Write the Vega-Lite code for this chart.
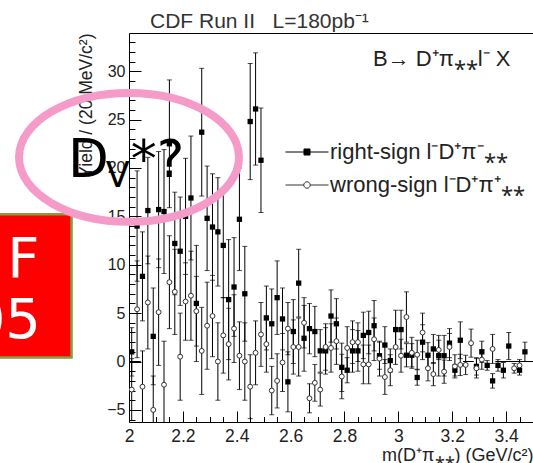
{
  "$schema": "https://vega.github.io/schema/vega-lite/v6.json",
  "width": 404,
  "height": 389,
  "autosize": {"type": "none"},
  "padding": {"left": 129, "top": 33, "right": 0, "bottom": 41},
  "background": "white",
  "title": {"text": "CDF Run II\u00a0\u00a0\u00a0L=180pb⁻¹", "anchor": "start", "frame": "group", "dx": 21, "offset": -16, "fontSize": 21, "fontWeight": "normal", "font": "Liberation Sans", "color": "#333", "baseline": "alphabetic"},
  "config": {
    "view": {"stroke": null},
    "axis": {"domainColor": "black", "tickColor": "black", "labelFont": "Liberation Sans", "titleFont": "Liberation Sans", "labelColor": "#222", "titleColor": "#222", "titleFontWeight": "normal", "grid": false, "tickWidth": 1, "domainWidth": 1},
    "legend": {"orient": "none", "legendX": 156, "legendY": 97, "padding": 0, "labelFont": "Liberation Sans", "labelFontSize": 22, "labelColor": "#222", "symbolSize": 1849, "symbolStrokeWidth": 1, "symbolOpacity": 1, "labelLimit": 400, "rowPadding": -9.6, "labelOffset": 1, "title": null}
  },
  "datasets": {
    "rs": [
      {"m": 2.01, "y": 1.0, "e": 2.5}, {"m": 2.03, "y": 14.0, "e": 5.7}, {"m": 2.05, "y": 8.8, "e": 4.6}, {"m": 2.07, "y": 15.6, "e": 5.5},
      {"m": 2.09, "y": 2.6, "e": 5.0}, {"m": 2.11, "y": 15.7, "e": 6.0}, {"m": 2.13, "y": 15.5, "e": 6.4}, {"m": 2.15, "y": 22.5, "e": 6.6},
      {"m": 2.17, "y": 12.2, "e": 5.3}, {"m": 2.19, "y": 11.4, "e": 5.6}, {"m": 2.21, "y": 15.0, "e": 6.0}, {"m": 2.23, "y": 16.9, "e": 6.4},
      {"m": 2.25, "y": 6.0, "e": 6.0}, {"m": 2.27, "y": 23.7, "e": 6.6}, {"m": 2.29, "y": 14.8, "e": 5.4}, {"m": 2.31, "y": 13.9, "e": 5.5},
      {"m": 2.33, "y": 13.4, "e": 5.6}, {"m": 2.35, "y": 12.0, "e": 5.4}, {"m": 2.37, "y": 6.4, "e": 6.2}, {"m": 2.39, "y": 7.7, "e": 5.1},
      {"m": 2.41, "y": 14.7, "e": 5.3}, {"m": 2.43, "y": 7.0, "e": 4.9}, {"m": 2.45, "y": 24.8, "e": 6.0}, {"m": 2.47, "y": 26.1, "e": 5.8},
      {"m": 2.49, "y": 20.8, "e": 5.4}, {"m": 2.51, "y": 4.5, "e": 3.3}, {"m": 2.53, "y": 3.9, "e": 3.6}, {"m": 2.55, "y": 6.6, "e": 3.8},
      {"m": 2.57, "y": 4.4, "e": 3.2}, {"m": 2.59, "y": -2.1, "e": 3.1}, {"m": 2.61, "y": 3.1, "e": 3.3}, {"m": 2.63, "y": 8.1, "e": 3.5},
      {"m": 2.65, "y": 2.4, "e": 3.4}, {"m": 2.67, "y": 3.4, "e": 2.6}, {"m": 2.69, "y": 3.1, "e": 2.6}, {"m": 2.71, "y": 1.1, "e": 2.2},
      {"m": 2.73, "y": 1.1, "e": 2.4}, {"m": 2.75, "y": 4.7, "e": 2.7}, {"m": 2.77, "y": 3.9, "e": 2.6}, {"m": 2.79, "y": -0.6, "e": 2.5},
      {"m": 2.81, "y": -0.9, "e": 1.3}, {"m": 2.83, "y": 1.1, "e": 2.2}, {"m": 2.85, "y": 1.1, "e": 2.1}, {"m": 2.87, "y": 2.7, "e": 2.4},
      {"m": 2.89, "y": 3.0, "e": 2.2}, {"m": 2.91, "y": 3.7, "e": 2.6}, {"m": 2.93, "y": 0.6, "e": 1.4}, {"m": 2.95, "y": 1.7, "e": 1.9},
      {"m": 2.97, "y": 0.1, "e": 1.2}, {"m": 2.99, "y": 3.3, "e": 2.0}, {"m": 3.01, "y": 3.3, "e": 2.0}, {"m": 3.03, "y": 0.65, "e": 1.2},
      {"m": 3.05, "y": 0.65, "e": 1.2}, {"m": 3.07, "y": -1.65, "e": 0.8}, {"m": 3.09, "y": 2.0, "e": 1.8}, {"m": 3.11, "y": 0.65, "e": 1.3},
      {"m": 3.13, "y": 1.3, "e": 1.5}, {"m": 3.15, "y": 0.6, "e": 2.1}, {"m": 3.17, "y": 0.6, "e": 2.1}, {"m": 3.19, "y": 1.9, "e": 1.5},
      {"m": 3.21, "y": -0.9, "e": 0.6}, {"m": 3.23, "y": 2.2, "e": 1.9}, {"m": 3.29, "y": -0.5, "e": 0.9}, {"m": 3.31, "y": 1.0, "e": 1.1},
      {"m": 3.33, "y": -0.4, "e": 0.5}, {"m": 3.35, "y": -2.0, "e": 0.75}, {"m": 3.37, "y": -0.4, "e": 0.6}, {"m": 3.39, "y": -0.9, "e": 0.8},
      {"m": 3.41, "y": 1.6, "e": 1.4}, {"m": 3.45, "y": -0.9, "e": 0.5}, {"m": 3.47, "y": 1.0, "e": 1.0}
    ],
    "ws": [
      {"m": 2.01, "y": -2.9, "e": 3.2}, {"m": 2.03, "y": 5.4, "e": 5.0}, {"m": 2.05, "y": -2.6, "e": 3.7}, {"m": 2.07, "y": 6.1, "e": 4.8},
      {"m": 2.09, "y": -5.0, "e": 3.5}, {"m": 2.11, "y": 5.1, "e": 5.5}, {"m": 2.13, "y": -2.4, "e": 4.5}, {"m": 2.15, "y": 8.2, "e": 4.8},
      {"m": 2.17, "y": 7.2, "e": 4.4}, {"m": 2.19, "y": 0.5, "e": 4.5}, {"m": 2.21, "y": 6.2, "e": 4.0}, {"m": 2.23, "y": 6.8, "e": 4.6},
      {"m": 2.25, "y": 5.2, "e": 3.6}, {"m": 2.27, "y": 1.1, "e": 4.5}, {"m": 2.29, "y": 3.7, "e": 4.5}, {"m": 2.31, "y": 4.7, "e": 4.2},
      {"m": 2.33, "y": 0.0, "e": 4.0}, {"m": 2.35, "y": 2.7, "e": 3.9}, {"m": 2.37, "y": 1.8, "e": 3.7}, {"m": 2.39, "y": 3.4, "e": 3.5},
      {"m": 2.41, "y": 0.6, "e": 3.5}, {"m": 2.43, "y": 0.0, "e": 4.0}, {"m": 2.45, "y": -2.6, "e": 3.3}, {"m": 2.47, "y": 0.9, "e": 3.3},
      {"m": 2.49, "y": 2.8, "e": 3.3}, {"m": 2.51, "y": 1.8, "e": 2.9}, {"m": 2.53, "y": -3.0, "e": 2.5}, {"m": 2.55, "y": -2.0, "e": 2.8},
      {"m": 2.57, "y": -0.1, "e": 3.0}, {"m": 2.59, "y": 3.4, "e": 2.7}, {"m": 2.61, "y": 1.5, "e": 2.8}, {"m": 2.63, "y": 1.5, "e": 3.0},
      {"m": 2.65, "y": 4.0, "e": 2.6}, {"m": 2.67, "y": -3.8, "e": 1.5}, {"m": 2.69, "y": -2.2, "e": 1.9}, {"m": 2.71, "y": -2.9, "e": 1.7},
      {"m": 2.73, "y": 1.5, "e": 2.4}, {"m": 2.75, "y": 1.4, "e": 2.5}, {"m": 2.77, "y": 2.1, "e": 2.4}, {"m": 2.79, "y": -1.55, "e": 2.3},
      {"m": 2.81, "y": 1.4, "e": 2.2}, {"m": 2.83, "y": 2.0, "e": 2.2}, {"m": 2.85, "y": 2.0, "e": 2.0}, {"m": 2.87, "y": -0.3, "e": 2.0},
      {"m": 2.89, "y": -0.3, "e": 2.0}, {"m": 2.91, "y": 2.3, "e": 2.2}, {"m": 2.93, "y": 0.3, "e": 1.8}, {"m": 2.95, "y": -1.6, "e": 1.8},
      {"m": 2.97, "y": -0.9, "e": 1.6}, {"m": 2.99, "y": 1.5, "e": 1.8}, {"m": 3.01, "y": 0.6, "e": 1.7}, {"m": 3.03, "y": 4.6, "e": 2.6},
      {"m": 3.05, "y": 0.9, "e": 1.6}, {"m": 3.07, "y": 0.7, "e": 1.5}, {"m": 3.09, "y": 3.0, "e": 2.0}, {"m": 3.11, "y": -0.7, "e": 1.3},
      {"m": 3.13, "y": -1.3, "e": 1.2}, {"m": 3.15, "y": 1.2, "e": 1.0}, {"m": 3.17, "y": -1.05, "e": 1.2}, {"m": 3.19, "y": 1.5, "e": 1.4},
      {"m": 3.21, "y": -0.5, "e": 1.2}, {"m": 3.23, "y": -0.35, "e": 1.1}, {"m": 3.25, "y": -0.35, "e": 1.0}, {"m": 3.27, "y": 1.9, "e": 1.45},
      {"m": 3.29, "y": -0.7, "e": 1.0}, {"m": 3.31, "y": 0.2, "e": 1.0}, {"m": 3.35, "y": 1.3, "e": 1.5}, {"m": 3.43, "y": -0.7, "e": 0.5},
      {"m": 3.45, "y": -0.4, "e": 0.6}
    ],
    "flat": [
      {"a": 2.0, "b": 2.044}, {"a": 3.24, "b": 3.28}, {"a": 3.36, "b": 3.5}
    ],
    "one": [{}]
  },
  "layer": [
    {
      "data": {"name": "rs"},
      "mark": {"type": "errorbar", "clip": true, "color": "black", "thickness": 1, "ticks": {"size": 5, "thickness": 1, "color": "black"}},
      "encoding": {
        "x": {"field": "m", "type": "quantitative", "scale": {"domain": [2, 3.5], "nice": false, "zero": false},
              "axis": {"orient": "bottom", "values": [2, 2.2, 2.4, 2.6, 2.8, 3, 3.2, 3.4], "format": "~g", "tickSize": -11, "labelPadding": 16, "labelFontSize": 17.5, "labelFlush": false, "labelOverlap": false, "title": "m(D⁺π⁎⁎) (GeV/c²)", "titleAnchor": "end", "titleFontSize": 18, "titlePadding": 2}},
        "y": {"field": "y", "type": "quantitative", "scale": {"domain": [-6.25, 33.95], "nice": false, "zero": false},
              "axis": {"orient": "left", "values": [-5, 0, 5, 10, 15, 20, 25, 30], "format": "d", "tickSize": -12, "labelPadding": 16, "labelFontSize": 16, "labelOverlap": false, "title": "Yield / (20 MeV/c²)", "titleAnchor": "end", "titleFontSize": 17.5, "titlePadding": 11}},
        "yError": {"field": "e"}
      }
    },
    {
      "data": {"name": "ws"},
      "mark": {"type": "errorbar", "clip": true, "color": "black", "thickness": 1, "ticks": {"size": 5, "thickness": 1, "color": "black"}},
      "encoding": {
        "x": {"field": "m", "type": "quantitative",
              "axis": {"orient": "bottom", "values": [2.05, 2.1, 2.15, 2.25, 2.3, 2.35, 2.45, 2.5, 2.55, 2.65, 2.7, 2.75, 2.85, 2.9, 2.95, 3.05, 3.1, 3.15, 3.25, 3.3, 3.35, 3.45], "tickSize": -5.5, "labels": false, "domain": false, "title": null}},
        "y": {"field": "y", "type": "quantitative",
              "axis": {"orient": "left", "values": [-6, -4, -3, -2, -1, 1, 2, 3, 4, 6, 7, 8, 9, 11, 12, 13, 14, 16, 17, 18, 19, 21, 22, 23, 24, 26, 27, 28, 29, 31, 32, 33], "tickSize": -6, "labels": false, "domain": false, "title": null}},
        "yError": {"field": "e"}
      }
    },
    {
      "data": {"name": "rs"},
      "mark": {"type": "point", "shape": "square", "filled": true, "color": "black", "size": 28, "opacity": 1, "clip": true},
      "encoding": {
        "x": {"field": "m", "type": "quantitative", "axis": {"orient": "top", "ticks": false, "labels": false, "domain": true, "title": null}},
        "y": {"field": "y", "type": "quantitative", "axis": null}
      }
    },
    {
      "data": {"name": "ws"},
      "mark": {"type": "point", "shape": "circle", "filled": false, "fill": "white", "stroke": "#333", "strokeWidth": 1, "size": 24, "opacity": 1, "clip": true},
      "encoding": {
        "x": {"field": "m", "type": "quantitative", "axis": null},
        "y": {"field": "y", "type": "quantitative", "axis": null}
      }
    },
    {
      "data": {"name": "flat"},
      "mark": {"type": "rule", "color": "black", "strokeWidth": 1, "clip": true},
      "encoding": {
        "x": {"field": "a", "type": "quantitative", "axis": null},
        "x2": {"field": "b"},
        "y": {"datum": 0, "type": "quantitative", "axis": null}
      }
    },
    {
      "data": {"values": []},
      "mark": {"type": "point", "filled": true, "opacity": 1},
      "encoding": {
        "shape": {"field": "series", "type": "nominal", "scale": {"domain": ["right-sign l⁻D⁺π⁻⁎⁎", "wrong-sign l⁻D⁺π⁺⁎⁎"], "range": ["M-1,0H1M-0.14,-0.14H0.14V0.14H-0.14Z", "M-1,0H-0.15M0.15,0H1M0.15,0A0.15,0.15,0,1,1,-0.15,0A0.15,0.15,0,1,1,0.15,0Z"]}, "legend": {"title": null}},
        "fill": {"field": "series", "type": "nominal", "scale": {"domain": ["right-sign l⁻D⁺π⁻⁎⁎", "wrong-sign l⁻D⁺π⁺⁎⁎"], "range": ["#000000", "#ffffff"]}, "legend": {"title": null}},
        "stroke": {"field": "series", "type": "nominal", "scale": {"domain": ["right-sign l⁻D⁺π⁻⁎⁎", "wrong-sign l⁻D⁺π⁺⁎⁎"], "range": ["#000000", "#333333"]}, "legend": {"title": null}}
      }
    },
    {
      "data": {"name": "one"},
      "mark": {"type": "text", "text": "B→ D⁺π⁎⁎l⁻ X", "align": "left", "baseline": "alphabetic", "font": "Liberation Sans", "fontSize": 22, "color": "#222"},
      "encoding": {
        "x": {"datum": 2.906, "type": "quantitative", "axis": null},
        "y": {"datum": 30.5, "type": "quantitative", "axis": null}
      }
    },
    {
      "data": {"name": "one"},
      "mark": {"type": "rect", "fill": "#ff0000", "stroke": "#8c9a3c", "strokeWidth": 2.5},
      "encoding": {
        "x": {"datum": 1.45, "type": "quantitative", "axis": null},
        "x2": {"datum": 1.7867},
        "y": {"datum": 15.23, "type": "quantitative", "axis": null},
        "y2": {"datum": 0.41}
      }
    },
    {
      "data": {"name": "one"},
      "mark": {"type": "text", "text": "F", "align": "right", "baseline": "alphabetic", "font": "DejaVu Sans", "fontSize": 56, "color": "white"},
      "encoding": {
        "x": {"datum": 1.668, "type": "quantitative", "axis": null},
        "y": {"datum": 8.73, "type": "quantitative", "axis": null}
      }
    },
    {
      "data": {"name": "one"},
      "mark": {"type": "text", "text": "05", "align": "right", "baseline": "alphabetic", "font": "DejaVu Sans", "fontSize": 56, "color": "white"},
      "encoding": {
        "x": {"datum": 1.673, "type": "quantitative", "axis": null},
        "y": {"datum": 2.45, "type": "quantitative", "axis": null}
      }
    },
    {
      "data": {"name": "one"},
      "mark": {"type": "point", "shape": "M-1,0A1,0.586,0,1,1,1,0A1,0.586,0,1,1,-1,0Z", "filled": false, "stroke": "#f59bc9", "strokeWidth": 8, "size": 48400, "opacity": 1},
      "encoding": {
        "x": {"datum": 2.0, "type": "quantitative", "axis": null},
        "y": {"datum": 21.1, "type": "quantitative", "axis": null}
      }
    },
    {
      "data": {"name": "one"},
      "mark": {"type": "text", "text": "D", "align": "left", "baseline": "alphabetic", "font": "DejaVu Sans", "fontSize": 53, "color": "black"},
      "encoding": {
        "x": {"datum": 1.7735, "type": "quantitative", "axis": null},
        "y": {"datum": 19.07, "type": "quantitative", "axis": null}
      }
    },
    {
      "data": {"name": "one"},
      "mark": {"type": "text", "text": "V", "align": "left", "baseline": "alphabetic", "font": "DejaVu Sans", "fontSize": 35, "color": "black"},
      "encoding": {
        "x": {"datum": 1.9135, "type": "quantitative", "axis": null},
        "y": {"datum": 18.03, "type": "quantitative", "axis": null}
      }
    },
    {
      "data": {"name": "one"},
      "mark": {"type": "text", "text": "*?", "align": "left", "baseline": "alphabetic", "font": "DejaVu Sans", "fontSize": 52, "color": "black"},
      "encoding": {
        "x": {"datum": 2.0067, "type": "quantitative", "axis": null},
        "y": {"datum": 19.07, "type": "quantitative", "axis": null}
      }
    }
  ],
  "resolve": {"axis": {"x": "independent", "y": "independent"}}
}
